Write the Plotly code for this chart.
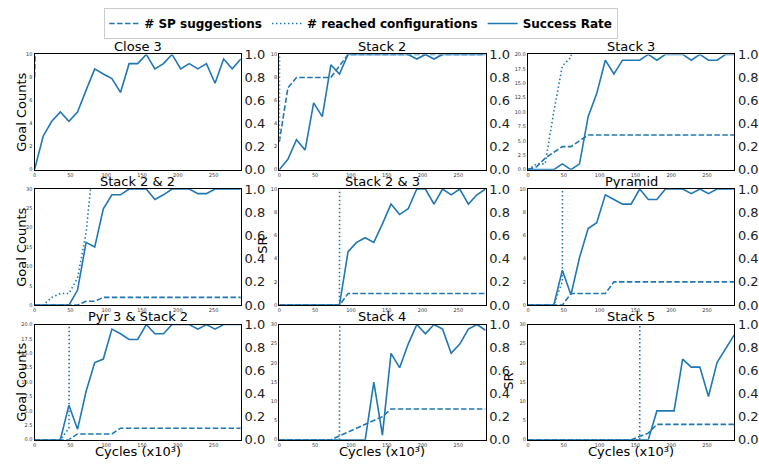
import plotly.graph_objects as go

# Training cycles (x10^3), one sample every 12k cycles
CYCLES = list(range(0, 289, 12))

PANEL_TITLES = ["Close 3", "Stack 2", "Stack 3",
                "Stack 2 & 2", "Stack 2 & 3", "Pyramid",
                "Pyr 3 & Stack 2", "Stack 4", "Stack 5"]

# Left-axis (goal counts) upper limits and tick steps per panel
COUNT_MAX = [10, 10, 20, 30, 10, 10, 20, 30, 30]
COUNT_STEP = [2, 2, 2.5, 5, 2, 2, 2.5, 5, 5]
COUNT_FMT = ["d", "d", ".1f", "d", "d", "d", ".1f", "d", "d"]

# Success rate per panel
SR_CLOSE3 = [0, 0.29, 0.42, 0.5, 0.42, 0.5, 0.69, 0.875, 0.83, 0.79, 0.67, 0.92, 0.92,
             1.0, 0.875, 0.92, 1.0, 0.875, 0.92, 0.875, 0.92, 0.75, 0.96, 0.875, 0.96]
SR_STACK2 = [0, 0.09, 0.26, 0.17, 0.58, 0.46, 0.91, 0.83, 1.0, 1.0, 1.0, 1.0, 1.0,
             1.0, 1.0, 1.0, 0.96, 1.0, 0.96, 1.0, 1.0, 1.0, 1.0, 1.0, 1.0]
SR_STACK3 = [0, 0, 0, 0, 0.05, 0, 0.05, 0.46, 0.66, 0.95, 0.83, 0.95, 0.95,
             0.95, 1.0, 0.95, 1.0, 1.0, 1.0, 0.95, 1.0, 0.95, 0.95, 1.0, 1.0]
SR_STACK22 = [0, 0, 0, 0, 0, 0.13, 0.54, 0.5, 0.83, 0.95, 0.95, 1.0, 1.0,
              1.0, 0.91, 0.95, 1.0, 1.0, 1.0, 0.96, 0.96, 1.0, 1.0, 1.0, 1.0]
SR_STACK23 = [0, 0, 0, 0, 0, 0, 0, 0, 0.46, 0.54, 0.58, 0.54, 0.70,
              0.87, 0.78, 0.83, 1.0, 1.0, 0.87, 1.0, 0.95, 1.0, 0.87, 0.95, 1.0]
SR_PYRAMID = [0, 0, 0, 0, 0.30, 0.09, 0.41, 0.66, 0.71, 0.95, 0.91, 0.87, 0.87,
              1.0, 0.91, 0.91, 1.0, 1.0, 1.0, 0.96, 1.0, 0.96, 1.0, 1.0, 1.0]
SR_PYR3S2 = [0, 0, 0, 0, 0.30, 0.09, 0.42, 0.67, 0.70, 0.96, 0.92, 0.87, 0.87,
             1.0, 0.92, 0.92, 1.0, 1.0, 1.0, 0.96, 1.0, 0.96, 1.0, 1.0, 1.0]
SR_STACK4 = [0, 0, 0, 0, 0, 0, 0, 0, 0, 0, 0, 0.5, 0.04,
             0.75, 0.625, 0.83, 1.0, 0.92, 1.0, 0.96, 0.75, 0.83, 0.96, 1.0, 0.95]
SR_STACK5 = [0, 0, 0, 0, 0, 0, 0, 0, 0, 0, 0, 0, 0,
             0, 0, 0.25, 0.25, 0.25, 0.70, 0.63, 0.63, 0.375, 0.67, 0.79, 0.91]

# Number of subgoal-planner suggestions per panel
SP_CLOSE3 = [8, 40]
SP_STACK2 = [2.4, 7.1, 8, 8, 8, 8, 8, 9, 10, 10, 10, 10, 10,
             10, 10, 10, 10, 10, 10, 10, 10, 10, 10, 10, 10]
SP_STACK3 = [0, 0.5, 2, 3, 4, 4, 5, 6, 6, 6, 6, 6, 6,
             6, 6, 6, 6, 6, 6, 6, 6, 6, 6, 6, 6]
SP_STACK22 = [0, 0, 0, 0, 0, 0, 1, 1, 2, 2, 2, 2, 2,
              2, 2, 2, 2, 2, 2, 2, 2, 2, 2, 2, 2]
SP_STACK23 = [0, 0, 0, 0, 0, 0, 0, 0, 1, 1, 1, 1, 1,
              1, 1, 1, 1, 1, 1, 1, 1, 1, 1, 1, 1]
SP_PYRAMID = [0, 0, 0, 0, 0, 1, 1, 1, 1, 1, 2, 2, 2,
              2, 2, 2, 2, 2, 2, 2, 2, 2, 2, 2, 2]
SP_PYR3S2 = [0, 0, 0, 0, 0, 1, 1, 1, 1, 1, 2, 2, 2,
             2, 2, 2, 2, 2, 2, 2, 2, 2, 2, 2, 2]
SP_STACK4 = [0, 0, 0, 0, 0, 0, 0, 1, 2, 3, 4, 5, 6,
             8, 8, 8, 8, 8, 8, 8, 8, 8, 8, 8, 8]
SP_STACK5 = [0, 0, 0, 0, 0, 0, 0, 0, 0, 0, 0, 0, 0,
             0.85, 1.7, 4, 4, 4, 4, 4, 4, 4, 4, 4, 4]

# Number of reached configurations per panel (values past the axis limit run off the top)
RC_CLOSE3 = []
RC_STACK2 = [2.4, 300]
RC_STACK3 = [0, 1, 1, 10, 18, 19.5, 40]
RC_STACK22 = [0, 0, 2, 3, 3, 7, 18.7, 41]
RC_STACK23 = [0, 0, 0, 0, 0, 0, 0, 0, 500]
RC_PYRAMID = [0, 0, 0, 0, 2, 500]
RC_PYR3S2 = [0, 0, 0, 0, 2, 500]
RC_STACK4 = [0, 0, 0, 0, 0, 0, 0, 0, 800]
RC_STACK5 = [0, 0, 0, 0, 0, 0, 0, 0, 0, 0, 0, 0, 0, 0, 2000]

SR_ALL = [SR_CLOSE3, SR_STACK2, SR_STACK3, SR_STACK22, SR_STACK23,
          SR_PYRAMID, SR_PYR3S2, SR_STACK4, SR_STACK5]
SP_ALL = [SP_CLOSE3, SP_STACK2, SP_STACK3, SP_STACK22, SP_STACK23,
          SP_PYRAMID, SP_PYR3S2, SP_STACK4, SP_STACK5]
RC_ALL = [RC_CLOSE3, RC_STACK2, RC_STACK3, RC_STACK22, RC_STACK23,
          RC_PYRAMID, RC_PYR3S2, RC_STACK4, RC_STACK5]

X_TICKS = [0, 50, 100, 150, 200, 250]
SR_TICKS = [0.0, 0.2, 0.4, 0.6, 0.8, 1.0]

W, H = 759, 469
BLUE = "#1f77b4"
FONT = "DejaVu Sans"

# Pixel boxes of the 3x3 grid
COL_PX = [(33, 242), (281, 490), (533, 742)]
ROW_PX = [(49, 168), (188, 308), (328, 447)]


def px_x(v):
    return v / W


def px_y(v):
    return 1 - v / H


fig = go.Figure()
layout = {}
annotations = []

for i in range(9):
    r, c = divmod(i, 3)
    n = i + 1
    xa, ya, ya2 = f"x{n}", f"y{n}", f"y{n + 9}"
    x0, x1 = COL_PX[c]
    y0, y1 = ROW_PX[r]
    xdom = [px_x(x0), px_x(x1)]
    ydom = [px_y(y1), px_y(y0)]
    legend_panel = (i == 1)

    sp = SP_ALL[i]
    rc = RC_ALL[i]
    sr = SR_ALL[i]

    fig.add_trace(go.Scatter(
        x=CYCLES[:len(sp)], y=sp, mode="lines", name="# SP suggestions",
        line=dict(color=BLUE, width=1.6, dash="5.5px,2.4px"),
        xaxis=xa, yaxis=ya, showlegend=legend_panel, legendgroup="sp"))
    fig.add_trace(go.Scatter(
        x=CYCLES[:len(rc)], y=rc, mode="lines", name="# reached configurations",
        line=dict(color=BLUE, width=1.6, dash="1.5px,2.5px"),
        xaxis=xa, yaxis=ya, showlegend=legend_panel, legendgroup="rc"))
    fig.add_trace(go.Scatter(
        x=CYCLES[:len(sr)], y=sr, mode="lines", name="Success Rate",
        line=dict(color=BLUE, width=1.6),
        xaxis=xa, yaxis=ya2, showlegend=legend_panel, legendgroup="sr"))

    cmax = COUNT_MAX[i]
    step = COUNT_STEP[i]
    cticks = [k * step for k in range(int(round(cmax / step)) + 1)]

    layout[f"xaxis{n}"] = dict(
        domain=xdom, anchor=ya, range=[0, 288], tickvals=X_TICKS,
        showgrid=False, zeroline=False, showline=True, mirror=True,
        linecolor="black", linewidth=1.3, ticks="",
        tickfont=dict(family=FONT, size=5, color="#333333"))
    layout[f"yaxis{n}"] = dict(
        domain=ydom, anchor=xa, range=[0, cmax], tickvals=cticks,
        tickformat=COUNT_FMT[i],
        showgrid=False, zeroline=False, showline=True, mirror=False,
        linecolor="black", linewidth=1.3, ticks="",
        tickfont=dict(family=FONT, size=5, color="#333333"))
    layout[f"yaxis{n + 9}"] = dict(
        anchor=xa, overlaying=ya, side="right", range=[0, 1],
        tickvals=SR_TICKS, tickformat=".1f",
        showgrid=False, zeroline=False, showline=True,
        linecolor="black", linewidth=1.3, ticks="",
        tickfont=dict(family=FONT, size=13, color="#222222"))

    annotations.append(dict(
        text=PANEL_TITLES[i], x=(xdom[0] + xdom[1]) / 2, y=px_y(y0 - 8),
        xref="paper", yref="paper", xanchor="center", yanchor="middle",
        showarrow=False, font=dict(family=FONT, size=13, color="black")))

    if c == 0:
        annotations.append(dict(
            text="Goal Counts", x=px_x(19), y=px_y((y0 + y1) / 2),
            xref="paper", yref="paper", xanchor="center", yanchor="middle",
            textangle=-90, showarrow=False,
            font=dict(family=FONT, size=13, color="black")))
    if r == 2:
        annotations.append(dict(
            text="Cycles (x10³)", x=(xdom[0] + xdom[1]) / 2,
            y=px_y(459), xref="paper", yref="paper",
            xanchor="center", yanchor="middle", showarrow=False,
            font=dict(family=FONT, size=13, color="black")))

# Right-axis "SR" labels that remain visible between panels
for sx, sy in [(264, 246), (513, 387)]:
    annotations.append(dict(
        text="SR", x=px_x(sx), y=px_y(sy), xref="paper", yref="paper",
        xanchor="center", yanchor="middle", textangle=-90, showarrow=False,
        font=dict(family=FONT, size=13, color="black")))

fig.update_layout(
    width=W, height=H, autosize=False,
    margin=dict(l=0, r=0, t=0, b=0),
    paper_bgcolor="white", plot_bgcolor="white",
    annotations=annotations,
    legend=dict(orientation="h", x=364 / W, xanchor="center",
                y=1 - 1 / H, yanchor="top",
                bgcolor="white", bordercolor="#cccccc", borderwidth=1,
                font=dict(family=FONT, size=12, color="black", weight="bold"),
                itemwidth=30, tracegroupgap=0),
    **layout)

fig.write_html("out.html")
